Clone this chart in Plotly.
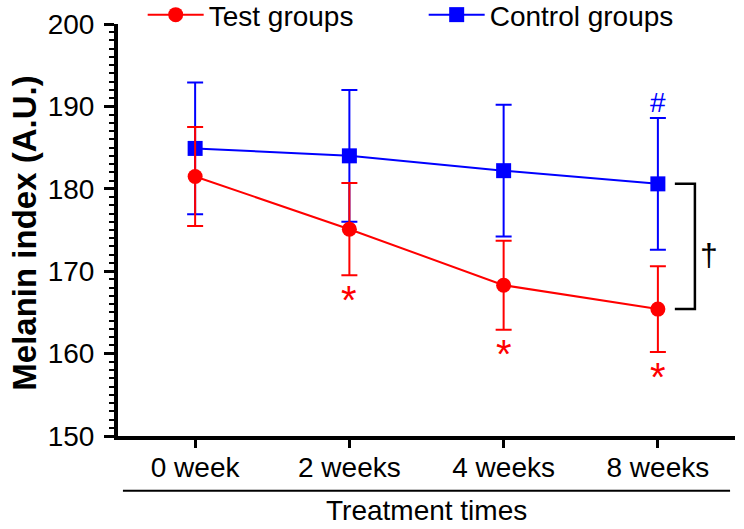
import plotly.graph_objects as go

# data
weeks = ["0 week", "2 weeks", "4 weeks", "8 weeks"]
test_mean = [181.5, 175.1, 168.3, 165.4]
test_sd = [6.0, 5.6, 5.4, 5.2]
control_mean = [184.9, 184.0, 182.2, 180.6]
control_sd = [8.0, 8.0, 8.0, 8.0]
test_sig = ["", "*", "*", "*"]
control_sig = ["", "", "", "#"]

FONT = "Arial, Liberation Sans, sans-serif"
RED = "#ff0000"
BLUE = "#0000ff"

xpos = list(range(len(weeks)))

fig = go.Figure()

fig.add_trace(go.Scatter(
    x=xpos, y=control_mean, name="Control groups",
    mode="lines+markers",
    line=dict(color=BLUE, width=2),
    marker=dict(symbol="square", size=15, color=BLUE),
    error_y=dict(type="data", array=control_sd, color=BLUE, thickness=2, width=8),
))
fig.add_trace(go.Scatter(
    x=xpos, y=test_mean, name="Test groups",
    mode="lines+markers",
    line=dict(color=RED, width=2),
    marker=dict(symbol="circle", size=15, color=RED),
    error_y=dict(type="data", array=test_sd, color=RED, thickness=2, width=8),
))

annotations = []
# significance marks below / above error bars
for i, s in enumerate(test_sig):
    if s:
        annotations.append(dict(x=i, y=test_mean[i] - test_sd[i] - 3.0, text=s,
                                showarrow=False, font=dict(family=FONT, size=40, color=RED),
                                yanchor="middle"))
for i, s in enumerate(control_sig):
    if s:
        annotations.append(dict(x=i, y=control_mean[i] + control_sd[i] + 1.9, text=s,
                                showarrow=False, font=dict(family=FONT, size=28, color=BLUE),
                                yanchor="middle"))

# bracket between groups at last time point
last = len(weeks) - 1
bx0, bx1 = last + 0.11, last + 0.24
fig.add_shape(type="path", xref="x", yref="y",
              path=f"M {bx0} {control_mean[last]} L {bx1} {control_mean[last]} "
                   f"L {bx1} {test_mean[last]} L {bx0} {test_mean[last]}",
              line=dict(color="black", width=2.5))
annotations.append(dict(x=bx1 + 0.02, y=(control_mean[last] + test_mean[last]) / 2 - 1.0,
                        text="†", showarrow=False, xanchor="left",
                        font=dict(family=FONT, size=32, color="black")))

# axis titles
annotations.append(dict(xref="paper", yref="paper", x=-0.151, y=0.493,
                        xanchor="center", yanchor="middle",
                        text="<b>Melanin index (A.U.)</b>", textangle=-90,
                        showarrow=False, font=dict(family=FONT, size=33, color="black")))
annotations.append(dict(xref="paper", yref="paper", x=0.5, y=-0.18,
                        text="Treatment times", showarrow=False, yanchor="middle",
                        font=dict(family=FONT, size=28, color="black")))

# line under the tick labels
fig.add_shape(type="line", xref="paper", yref="paper",
              x0=0.008, x1=0.992, y0=-0.133, y1=-0.133,
              line=dict(color="black", width=2))

fig.update_layout(
    width=744, height=529,
    margin=dict(l=118, r=9, t=24, b=93, autoexpand=False),
    plot_bgcolor="white", paper_bgcolor="white",
    font=dict(family=FONT, size=28, color="black"),
    showlegend=True,
    legend=dict(orientation="h", x=0.04, y=1.022, xanchor="left", yanchor="middle",
                traceorder="reversed", font=dict(family=FONT, size=28),
                itemwidth=56, entrywidth=210, entrywidthmode="pixels",
                bgcolor="rgba(0,0,0,0)"),
    annotations=annotations,
)

fig.update_xaxes(
    range=[-0.5, 3.5], tickmode="array", tickvals=xpos, ticktext=weeks,
    showgrid=False, zeroline=False,
    showline=True, linecolor="black", linewidth=4,
    ticks="outside", ticklen=8, tickwidth=3, tickcolor="black",
    tickfont=dict(family=FONT, size=28),
    ticklabelstandoff=-5,
)
fig.update_yaxes(
    range=[150, 200], tickmode="linear", tick0=150, dtick=10,
    showgrid=False, zeroline=False,
    showline=True, linecolor="black", linewidth=4,
    ticks="outside", ticklen=10, tickwidth=3, tickcolor="black",
    minor=dict(ticks="outside", dtick=1, ticklen=5, tickwidth=2, tickcolor="black", showgrid=False),
    tickfont=dict(family=FONT, size=28),
    ticklabelstandoff=4,
)

# drop the default page margin so the figure sits at the window's corner
fig.write_html("out.html", config={"displayModeBar": False},
               post_script="document.body.style.margin='0';")
